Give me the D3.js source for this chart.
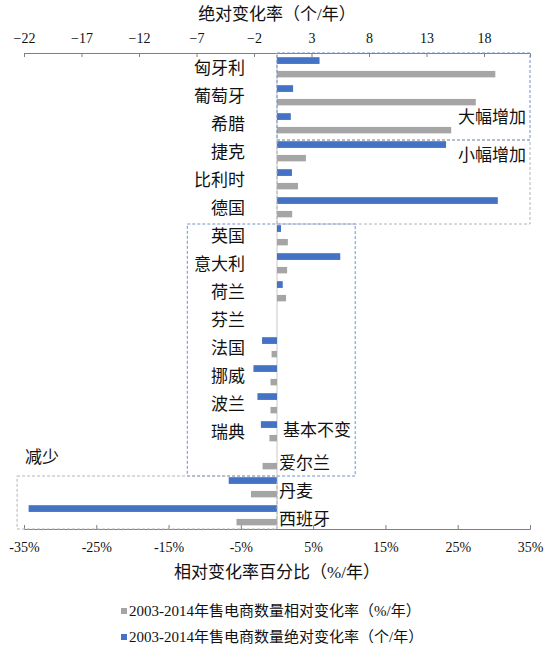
<!DOCTYPE html>
<html>
<head>
<meta charset="utf-8">
<script src="https://cdn.jsdelivr.net/npm/d3@7"></script>
<style>
  body { margin: 0; background: #fff; }
  text { font-family: "Liberation Serif", "Noto Sans CJK SC", serif; fill: #111; }
</style>
</head>
<body>
<svg id="chart" width="553" height="655"></svg>
<script>
// countries, top to bottom
var countries = ["匈牙利", "葡萄牙", "希腊", "捷克", "比利时", "德国", "英国", "意大利", "荷兰",
                 "芬兰", "法国", "挪威", "波兰", "瑞典", "爱尔兰", "丹麦", "西班牙"];
// absolute change (个/年), top axis
var absChange = [3.7, 1.4, 1.2, 14.7, 1.3, 19.2, 0.35, 5.5, 0.5, 0, -1.3, -2.05, -1.7, -1.4, 0, -4.2, -21.6];
// relative change (%/年), bottom axis
var relChange = [30.2, 27.5, 24.1, 4.0, 2.9, 2.1, 1.5, 1.4, 1.25, 0, -0.75, -0.9, -0.9, -1.05, -2.0, -3.6, -5.6];

var absTicks = [-22, -17, -12, -7, -2, 3, 8, 13, 18];
var relTicks = [-35, -25, -15, -5, 5, 15, 25, 35];
var rightLabelled = ["爱尔兰", "丹麦", "西班牙"];

var seriesNames = ["2003-2014年售电商数量相对变化率（%/年）", "2003-2014年售电商数量绝对变化率（个/年）"];

// dashed group boxes, x range in 个/年
var groupNames = ["大幅增加", "小幅增加", "基本不变", "减少"];
var groupFrom = ["匈牙利", "捷克", "英国", "丹麦"];
var groupTo = ["希腊", "德国", "爱尔兰", "西班牙"];
var groupX0 = [0, 0, -7.8, -22.6];
var groupX1 = [22, 22, 6.8, 0];
var groupLabelRow = ["希腊", "捷克", "瑞典", "爱尔兰"];

var blue = "#4472c4", grey = "#a5a5a5";

var svg = d3.select("#chart");
var margin = {left: 24, right: 530, top: 53, bottom: 529};

var xAbs = d3.scaleLinear().domain([-22, 22]).range([margin.left, margin.right]);
var xRel = d3.scaleLinear().domain([-35, 35]).range([margin.left, margin.right]);
var y = d3.scaleBand().domain(countries).range([margin.top, margin.bottom]);
var bw = y.bandwidth();

// axes
var topAxis = svg.append("g")
    .attr("transform", "translate(0," + margin.top + ")")
    .call(d3.axisTop(xAbs).tickValues(absTicks).tickSize(-4).tickPadding(10));
var botAxis = svg.append("g")
    .attr("transform", "translate(0," + margin.bottom + ")")
    .call(d3.axisBottom(xRel).tickValues(relTicks).tickSize(-4).tickPadding(13)
      .tickFormat(function(d) { return d + "%"; }));
[topAxis, botAxis].forEach(function(ax) {
  ax.select(".domain").attr("stroke", "#7f7f7f");
  ax.selectAll(".tick line").attr("stroke", "#7f7f7f");
  ax.selectAll(".tick text").attr("font-size", 14).attr("fill", "#111")
    .attr("font-family", "Liberation Serif");
});

// category axis line at zero
svg.append("line")
    .attr("x1", xRel(0)).attr("x2", xRel(0))
    .attr("y1", margin.top).attr("y2", margin.bottom)
    .attr("stroke", "#c8c8c8");

// bars: absolute (blue) in the upper part of each band, relative (grey) lower
svg.selectAll(".abs")
    .data(countries)
  .enter().append("rect")
    .attr("class", "abs")
    .attr("x", function(d, i) { return Math.min(xAbs(0), xAbs(absChange[i])); })
    .attr("width", function(d, i) { return Math.abs(xAbs(absChange[i]) - xAbs(0)); })
    .attr("y", function(d) { return y(d) + bw * 0.15; })
    .attr("height", bw * 0.24)
    .attr("fill", blue);

svg.selectAll(".rel")
    .data(countries)
  .enter().append("rect")
    .attr("class", "rel")
    .attr("x", function(d, i) { return Math.min(xRel(0), xRel(relChange[i])); })
    .attr("width", function(d, i) { return Math.abs(xRel(relChange[i]) - xRel(0)); })
    .attr("y", function(d) { return y(d) + bw * 0.64; })
    .attr("height", bw * 0.23)
    .attr("fill", grey);

// category labels
svg.selectAll(".cat")
    .data(countries)
  .enter().append("text")
    .attr("class", "cat")
    .attr("x", function(d) { return rightLabelled.indexOf(d) >= 0 ? xRel(0) + 2 : xRel(0) - 32; })
    .attr("y", function(d) { return y(d) + bw / 2 + (rightLabelled.indexOf(d) >= 0 ? 4 : 1); })
    .attr("dy", "0.35em")
    .attr("text-anchor", function(d) { return rightLabelled.indexOf(d) >= 0 ? "start" : "end"; })
    .attr("font-size", 17)
    .text(function(d) { return d; });

// dashed group boxes
function edge(name, isTop) {
  var yy = isTop ? y(name) : y(name) + bw;
  if (yy > margin.top + 1 && yy < margin.bottom - 1) yy += 3;
  return yy;
}
groupNames.forEach(function(g, i) {
  var y0 = edge(groupFrom[i], true), y1 = edge(groupTo[i], false);
  svg.append("rect")
      .attr("x", xAbs(groupX0[i])).attr("y", y0)
      .attr("width", xAbs(groupX1[i]) - xAbs(groupX0[i]))
      .attr("height", y1 - y0)
      .attr("fill", "none")
      .attr("stroke", (i === 0 || i === 2) ? "#6f8fcf" : "#b4b4b4")
      .attr("stroke-dasharray", "3,2");
  var ly = y(groupLabelRow[i]) + bw / 2;
  var lbl = svg.append("text").attr("font-size", 17).attr("dy", "0.35em").text(g);
  if (i < 2) {
    lbl.attr("x", xAbs(groupX1[i]) - 4).attr("text-anchor", "end").attr("y", ly + (i === 0 ? -6 : 4));
  } else if (i === 2) {
    lbl.attr("x", xAbs(0) + 6).attr("y", ly - 1);
  } else {
    lbl.attr("x", xAbs(groupX0[i]) + 8).attr("y", ly - 2);
  }
});

// axis titles
svg.append("text")
    .attr("x", xRel(0)).attr("y", 14).attr("dy", "0.35em")
    .attr("text-anchor", "middle").attr("font-size", 17)
    .text("绝对变化率（个/年）");
svg.append("text")
    .attr("x", xRel(0)).attr("y", 572).attr("dy", "0.35em")
    .attr("text-anchor", "middle").attr("font-size", 17)
    .text("相对变化率百分比（%/年）");

// legend
var legend = svg.selectAll(".legend")
    .data(seriesNames)
  .enter().append("g")
    .attr("class", "legend")
    .attr("transform", function(d, i) { return "translate(121," + (611 + i * 26) + ")"; });
legend.append("rect")
    .attr("x", 0).attr("y", -3).attr("width", 6).attr("height", 6)
    .attr("fill", function(d, i) { return i === 0 ? grey : blue; });
legend.append("text")
    .attr("x", 8).attr("dy", "0.35em")
    .attr("font-size", 15)
    .text(function(d) { return d; });
</script>
</body>
</html>
